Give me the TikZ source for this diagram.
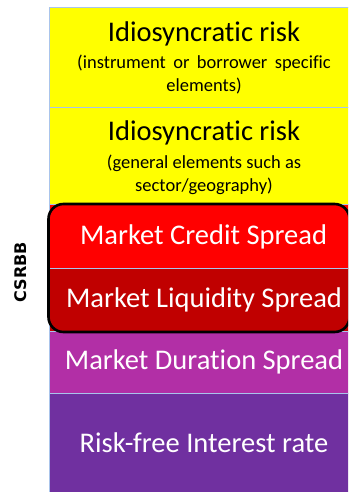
\documentclass[tikz,border=0pt]{standalone}
\usepackage{fontspec}
\setmainfont{Carlito}[Ligatures=NoCommon]
\newfontfamily\dsans{DejaVu Sans}
\newcommand\mywidesp{\spaceskip 0.4em\relax}
\definecolor{cyel}{HTML}{FFFF00}
\definecolor{cred}{HTML}{FF0000}
\definecolor{cdred}{HTML}{C00000}
\definecolor{cmag}{HTML}{B22FA6}
\definecolor{cpur}{HTML}{7030A0}
\definecolor{cedge}{HTML}{A9C4EB}
\begin{document}
\begin{tikzpicture}[x=1pt,y=-1pt,
  layer/.style={draw=cedge,line width=0.8pt,anchor=north west,inner sep=0pt,
    minimum width=310pt},
  ttl/.style={font=\fontsize{28.5}{30}\selectfont},
  sub/.style={font=\fontsize{18.5}{23}\selectfont,align=center},
  subwide/.style={font=\fontsize{18.5}{23}\selectfont\mywidesp,align=center},
]
\useasboundingbox (0,0) rectangle (348,492);
\clip (0,0) rectangle (348,492);
\fill[white] (0,0) rectangle (348,492);
\node[layer,fill=cyel,minimum height=100pt] (b1) at (49,7) {};
\node[layer,fill=cyel,minimum height=97pt] (b2) at (49,107) {};
\node[layer,fill=cred,minimum height=64pt] (b3) at (49,204) {};
\node[layer,fill=cdred,minimum height=63pt] (b4) at (49,268) {};
\node[layer,fill=cmag,minimum height=62pt] (b5) at (49,331) {};
\node[layer,fill=cpur,minimum height=110pt] (b6) at (49,393) {};
\node[ttl] (t1) at (204,34) {Idiosyncratic risk};
\node[subwide] (s1) at (204,75) {(instrument or borrower specific\\elements)};
\node[ttl] (t2) at (204,133) {Idiosyncratic risk};
\node[sub] (s2) at (204,175) {(general elements such as\\sector/geography)};
\node[ttl,text=white] (t3) at (203.5,237) {Market Credit Spread};
\node[ttl,text=white] (t4) at (204,300) {Market Liquidity Spread};
\node[ttl,text=white] (t5) at (204,362) {Market Duration Spread};
\node[ttl,text=white] (t6) at (204,443) {Risk-free Interest rate};
\draw[line width=2.6pt,rounded corners=15pt] (48.5,204) rectangle (349.5,332);
\node[rotate=90,font=\dsans\bfseries\fontsize{16}{16}\selectfont] (cs) at (21,272) {CSRBB};
\end{tikzpicture}
\end{document}
